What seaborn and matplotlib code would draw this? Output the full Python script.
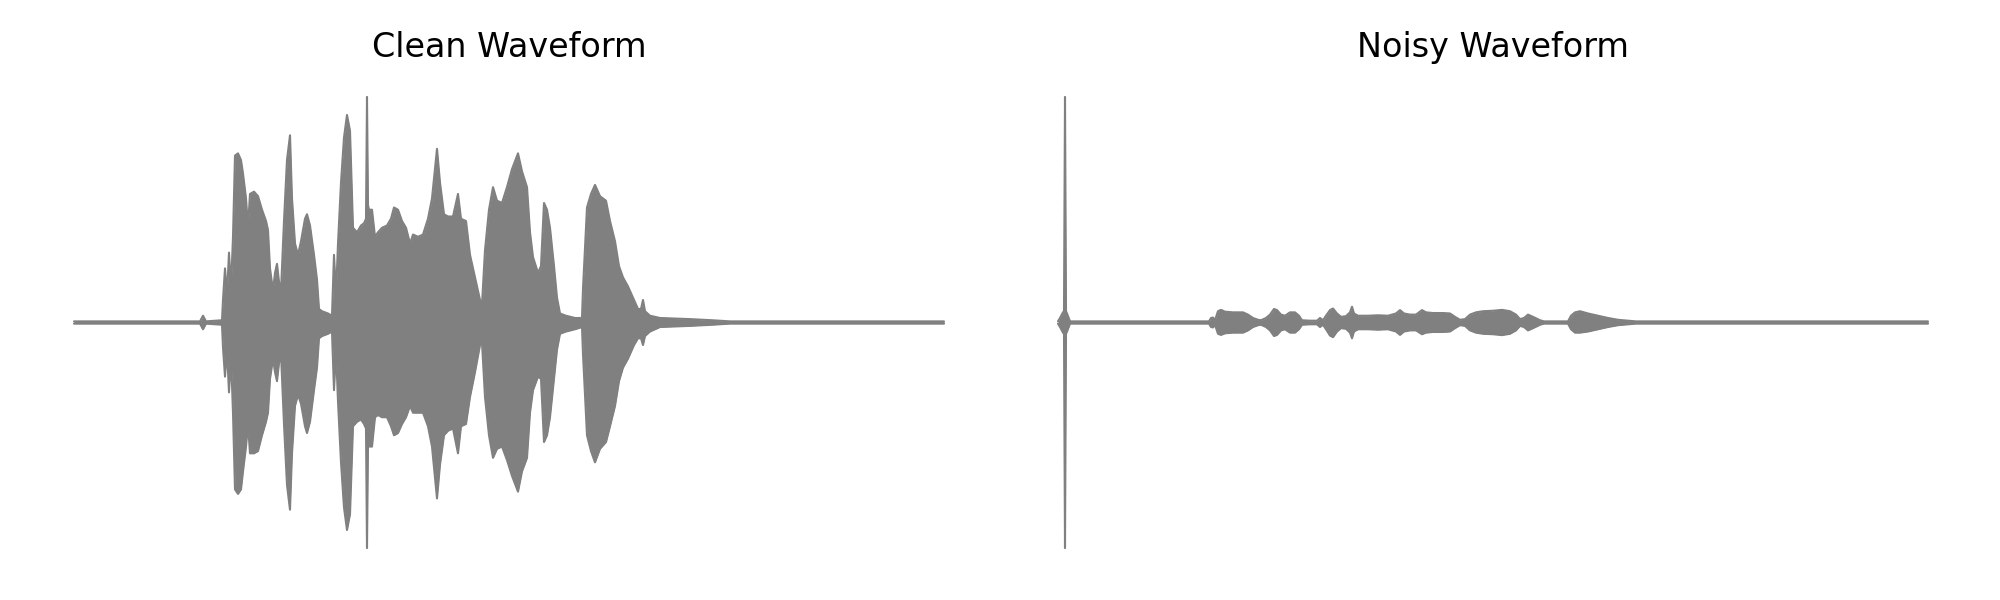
import matplotlib
matplotlib.use("Agg")
import matplotlib.pyplot as plt
import seaborn as sns
import numpy as np

# ---- Data (frame index, normalised amplitude envelope) ----
clean_frame = [0, 126, 129, 132, 148, 149, 151, 153, 155, 157,
               159, 161, 164, 167, 169, 172, 174, 176, 180, 184,
               188, 192, 194, 196, 199, 201, 203, 205, 207, 210,
               213, 216, 218, 221, 224, 227, 231, 233, 236, 240,
               243, 245, 248, 254, 258, 260, 262, 264, 267, 270,
               273, 276, 279, 283, 287, 290, 292, 293, 294, 295,
               298, 301, 304, 308, 313, 317, 320, 324, 328, 332,
               336, 339, 344, 349, 354, 358, 363, 366, 370, 374,
               379, 384, 387, 392, 396, 401, 406, 408, 411, 415,
               419, 423, 428, 433, 438, 444, 448, 453, 456, 459,
               464, 467, 470, 473, 476, 480, 483, 486, 492, 501,
               508, 509, 513, 517, 521, 526, 532, 536, 541, 545,
               549, 554, 560, 564, 567, 569, 571, 576, 586, 616,
               638, 656, 870]
clean_upper = [0.005, 0.005, 0.03, 0.005, 0.01, 0.10, 0.24, 0.12, 0.31, 0.15,
               0.38, 0.74, 0.75, 0.72, 0.66, 0.55, 0.42, 0.57, 0.58, 0.56,
               0.50, 0.45, 0.41, 0.24, 0.14, 0.22, 0.26, 0.18, 0.14, 0.45,
               0.72, 0.83, 0.55, 0.35, 0.30, 0.36, 0.46, 0.48, 0.43, 0.30,
               0.19, 0.06, 0.05, 0.04, 0.03, 0.30, 0.12, 0.35, 0.62, 0.82,
               0.92, 0.85, 0.42, 0.40, 0.43, 0.44, 0.46, 1.00, 0.52, 0.50,
               0.50, 0.38, 0.40, 0.42, 0.43, 0.46, 0.51, 0.50, 0.45, 0.42,
               0.35, 0.39, 0.38, 0.39, 0.46, 0.55, 0.77, 0.62, 0.48, 0.47,
               0.47, 0.57, 0.46, 0.45, 0.30, 0.20, 0.10, 0.08, 0.32, 0.50,
               0.60, 0.54, 0.53, 0.60, 0.68, 0.75, 0.67, 0.60, 0.40, 0.29,
               0.22, 0.25, 0.53, 0.50, 0.42, 0.25, 0.11, 0.04, 0.03, 0.02,
               0.02, 0.15, 0.51, 0.57, 0.61, 0.56, 0.54, 0.45, 0.36, 0.25,
               0.20, 0.16, 0.10, 0.06, 0.06, 0.10, 0.05, 0.03, 0.02, 0.015,
               0.01, 0.005, 0.005]
clean_lower = [-0.005, -0.005, -0.03, -0.005, -0.01, -0.11, -0.24, -0.12, -0.31, -0.15,
               -0.40, -0.74, -0.76, -0.74, -0.66, -0.55, -0.45, -0.58, -0.58, -0.57,
               -0.50, -0.44, -0.40, -0.25, -0.16, -0.22, -0.26, -0.18, -0.14, -0.45,
               -0.72, -0.83, -0.58, -0.37, -0.32, -0.36, -0.46, -0.49, -0.44, -0.30,
               -0.20, -0.07, -0.06, -0.05, -0.04, -0.30, -0.12, -0.35, -0.62, -0.82,
               -0.92, -0.85, -0.46, -0.44, -0.43, -0.45, -0.47, -1.00, -0.54, -0.55,
               -0.55, -0.42, -0.41, -0.42, -0.42, -0.46, -0.50, -0.49, -0.45, -0.42,
               -0.37, -0.40, -0.40, -0.40, -0.46, -0.55, -0.78, -0.63, -0.50, -0.48,
               -0.47, -0.58, -0.46, -0.45, -0.33, -0.22, -0.10, -0.09, -0.33, -0.50,
               -0.60, -0.56, -0.55, -0.61, -0.68, -0.75, -0.66, -0.60, -0.40, -0.30,
               -0.24, -0.25, -0.53, -0.50, -0.42, -0.25, -0.12, -0.05, -0.04, -0.03,
               -0.02, -0.14, -0.50, -0.57, -0.62, -0.56, -0.53, -0.46, -0.37, -0.26,
               -0.20, -0.16, -0.10, -0.07, -0.07, -0.10, -0.06, -0.04, -0.02, -0.015,
               -0.01, -0.005, -0.005]

noisy_frame = [0, 2, 5, 6, 7, 8, 9, 12, 151, 153,
               155, 157, 160, 163, 167, 175, 185, 190, 195, 200,
               203, 208, 212, 216, 219, 223, 227, 232, 237, 241,
               244, 252, 259, 262, 265, 268, 272, 275, 279, 283,
               288, 292, 294, 296, 300, 310, 320, 330, 338, 342,
               346, 352, 358, 364, 368, 375, 385, 392, 397, 402,
               407, 412, 418, 425, 435, 444, 452, 458, 462, 466,
               470, 475, 482, 486, 510, 513, 517, 522, 530, 540,
               550, 560, 570, 578, 870]
noisy_upper = [0.005, 0.02, 0.045, 0.05, 1.00, 0.05, 0.04, 0.005, 0.005, 0.02,
               0.022, 0.01, 0.05, 0.056, 0.048, 0.045, 0.045, 0.035, 0.02, 0.012,
               0.01, 0.02, 0.035, 0.06, 0.055, 0.035, 0.03, 0.045, 0.045, 0.03,
               0.01, 0.008, 0.008, 0.02, 0.01, 0.03, 0.055, 0.062, 0.04, 0.025,
               0.028, 0.045, 0.07, 0.04, 0.03, 0.03, 0.032, 0.03, 0.04, 0.055,
               0.04, 0.035, 0.035, 0.055, 0.045, 0.042, 0.042, 0.04, 0.025, 0.012,
               0.015, 0.035, 0.045, 0.05, 0.052, 0.056, 0.05, 0.035, 0.015, 0.02,
               0.035, 0.025, 0.01, 0.005, 0.005, 0.03, 0.045, 0.05, 0.04, 0.03,
               0.02, 0.012, 0.008, 0.005, 0.005]
noisy_lower = [-0.005, -0.02, -0.045, -0.05, -1.00, -0.05, -0.04, -0.005, -0.005, -0.02,
               -0.022, -0.01, -0.05, -0.055, -0.048, -0.045, -0.045, -0.035, -0.02, -0.012,
               -0.01, -0.02, -0.035, -0.06, -0.055, -0.035, -0.03, -0.045, -0.045, -0.03,
               -0.01, -0.008, -0.008, -0.02, -0.01, -0.03, -0.058, -0.065, -0.04, -0.025,
               -0.028, -0.045, -0.07, -0.04, -0.03, -0.03, -0.032, -0.03, -0.04, -0.055,
               -0.04, -0.035, -0.035, -0.052, -0.045, -0.042, -0.042, -0.04, -0.025, -0.012,
               -0.015, -0.035, -0.045, -0.05, -0.052, -0.056, -0.05, -0.035, -0.015, -0.02,
               -0.035, -0.025, -0.01, -0.005, -0.005, -0.03, -0.045, -0.045, -0.04, -0.03,
               -0.02, -0.012, -0.008, -0.005, -0.005]

titles = ["Clean Waveform", "Noisy Waveform"]

# ---- Plot ----
sns.set_theme(style="white")
plt.rcParams['font.family'] = ['DejaVu Sans']

fig = plt.figure(figsize=(20, 6), dpi=100)
ax_pos = [[0.01525, 0.049, 0.4785, 0.827], [0.50725, 0.049, 0.4785, 0.827]]
series = [(clean_frame, clean_upper, clean_lower), (noisy_frame, noisy_upper, noisy_lower)]
color = "#808080"

for pos, (fr, up, lo), title in zip(ax_pos, series, titles):
    ax = fig.add_axes(pos)
    ax.fill_between(fr, lo, up, color=color, linewidth=0)
    sns.lineplot(x=fr, y=up, ax=ax, color=color, linewidth=1.5,
                 estimator=None, sort=False)
    sns.lineplot(x=fr, y=lo, ax=ax, color=color, linewidth=1.5,
                 estimator=None, sort=False)
    ax.set_title(title, fontsize=24, pad=12.4, color="black")
    ax.axis("off")

fig.savefig("out.png", dpi=100)
